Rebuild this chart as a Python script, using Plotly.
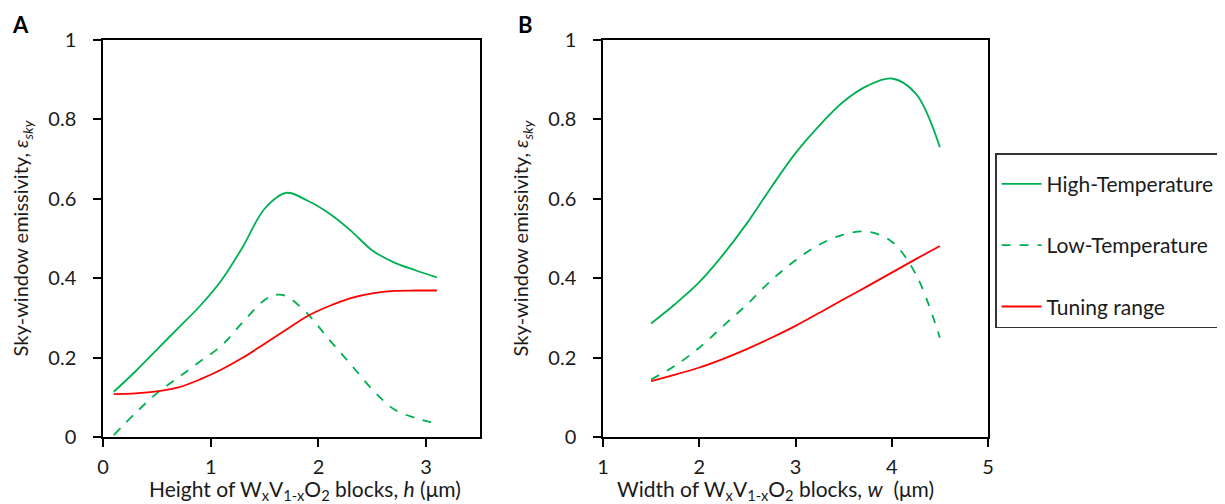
import plotly.graph_objects as go

# Panel A: height h (um)
h_vals = [0.1, 0.3, 0.5, 0.7, 0.9, 1.1, 1.3, 1.5, 1.7, 1.9, 2.1, 2.3, 2.5, 2.7, 2.9, 3.1]
a_high = [0.114, 0.165, 0.22, 0.275, 0.33, 0.395, 0.48, 0.575, 0.615, 0.595, 0.563, 0.52, 0.47, 0.44, 0.42, 0.402]
a_low_x = [0.1, 0.3, 0.5, 0.7, 0.9, 1.1, 1.3, 1.5, 1.6, 1.7, 1.9, 2.1, 2.3, 2.5, 2.7, 2.9, 3.1]
a_low = [0.005, 0.06, 0.11, 0.15, 0.19, 0.23, 0.29, 0.345, 0.358, 0.355, 0.31, 0.245, 0.183, 0.12, 0.07, 0.048, 0.033]
a_tune = [0.108, 0.11, 0.115, 0.125, 0.145, 0.17, 0.2, 0.235, 0.27, 0.305, 0.33, 0.35, 0.362, 0.368, 0.369, 0.369]

# Panel B: width w (um)
w_vals = [1.5, 1.75, 2.0, 2.25, 2.5, 2.75, 3.0, 3.25, 3.5, 3.75, 4.0, 4.25, 4.5]
b_high = [0.286, 0.335, 0.39, 0.46, 0.54, 0.63, 0.715, 0.785, 0.845, 0.885, 0.903, 0.865, 0.73]
b_low = [0.145, 0.18, 0.225, 0.28, 0.335, 0.395, 0.445, 0.485, 0.51, 0.517, 0.492, 0.41, 0.25]
b_tune = [0.141, 0.157, 0.175, 0.197, 0.222, 0.25, 0.28, 0.313, 0.347, 0.38, 0.414, 0.448, 0.481]

x_title_a = "Height of W<sub>x</sub>V<sub>1-x</sub>O<sub>2</sub> blocks, <i>h</i> (μm)"
x_title_b = "Width of W<sub>x</sub>V<sub>1-x</sub>O<sub>2</sub> blocks, <i>w</i>  (μm)"
y_title = "Sky-window emissivity, <i>ε<sub>sky</sub></i>"

GREEN = "#00B050"
RED = "#FF0000"
FONT = "Lato"
TXT = "#1a1a1a"

fig = go.Figure()
lw = 1.8
fig.add_trace(go.Scatter(x=h_vals, y=a_high, mode="lines", line=dict(color=GREEN, width=lw, shape="spline"),
                         name="High-Temperature", legendgroup="g1", xaxis="x", yaxis="y"))
fig.add_trace(go.Scatter(x=a_low_x, y=a_low, mode="lines", line=dict(color=GREEN, width=lw, dash="dash", shape="spline"),
                         name="Low-Temperature", legendgroup="g2", xaxis="x", yaxis="y"))
fig.add_trace(go.Scatter(x=h_vals, y=a_tune, mode="lines", line=dict(color=RED, width=lw, shape="spline"),
                         name="Tuning range", legendgroup="g3", xaxis="x", yaxis="y"))
fig.add_trace(go.Scatter(x=w_vals, y=b_high, mode="lines", line=dict(color=GREEN, width=lw, shape="spline"),
                         name="High-Temperature", legendgroup="g1", showlegend=False, xaxis="x2", yaxis="y2"))
fig.add_trace(go.Scatter(x=w_vals, y=b_low, mode="lines", line=dict(color=GREEN, width=lw, dash="dash", shape="spline"),
                         name="Low-Temperature", legendgroup="g2", showlegend=False, xaxis="x2", yaxis="y2"))
fig.add_trace(go.Scatter(x=w_vals, y=b_tune, mode="lines", line=dict(color=RED, width=lw, shape="spline"),
                         name="Tuning range", legendgroup="g3", showlegend=False, xaxis="x2", yaxis="y2"))

axis_common = dict(showline=True, linecolor="black", linewidth=1.5, mirror=True, ticks="outside",
                   ticklen=8, tickcolor="black", tickwidth=1.5, showgrid=False, zeroline=False,
                   tickfont=dict(family=FONT, size=20, color=TXT))
TFONT = dict(family=FONT, size=20, color=TXT)
XTFONT = dict(family=FONT, size=21, color=TXT)

fig.update_layout(
    width=1225, height=504,
    margin=dict(l=88, r=245, t=32, b=75),
    plot_bgcolor="white", paper_bgcolor="white",
    font=dict(family=FONT, color=TXT),
    xaxis=dict(domain=[0, 0.426], range=[0, 3.5], dtick=1, anchor="y", ticklabelstandoff=3, **axis_common),
    yaxis=dict(domain=[0, 1], range=[0, 1], dtick=0.2, anchor="x", ticklabelstandoff=13,
               title=dict(text=y_title, font=TFONT, standoff=14), **axis_common),
    xaxis2=dict(domain=[0.565, 1], range=[1, 5], dtick=1, anchor="y2", ticklabelstandoff=3, **axis_common),
    yaxis2=dict(domain=[0, 1], range=[0, 1], dtick=0.2, anchor="x2", ticklabelstandoff=13,
                title=dict(text=y_title, font=TFONT, standoff=14), **axis_common),
    legend=dict(x=1.008, y=0.715, xanchor="left", yanchor="top", bordercolor="#333333", borderwidth=1.5,
                font=dict(family=FONT, size=21, color=TXT), tracegroupgap=31, bgcolor="white",
                itemwidth=40,
                title=dict(text=" ", font=dict(family=FONT, size=7))),
    showlegend=True,
    annotations=[
        dict(text="<b>A</b>", xref="paper", yref="paper", x=-0.093, y=1.038, xanchor="center", yanchor="middle",
             showarrow=False, font=dict(family=FONT, size=22, color="black")),
        dict(text="<b>B</b>", xref="paper", yref="paper", x=0.4776, y=1.038, xanchor="center", yanchor="middle",
             showarrow=False, font=dict(family=FONT, size=22, color="black")),
        dict(text=x_title_a, xref="paper", yref="paper", x=0.2287, y=-0.1335, xanchor="center", yanchor="middle",
             showarrow=False, font=XTFONT),
        dict(text=x_title_b, xref="paper", yref="paper", x=0.7595, y=-0.1335, xanchor="center", yanchor="middle",
             showarrow=False, font=XTFONT),
    ],
)

fig.write_html("out.html")
